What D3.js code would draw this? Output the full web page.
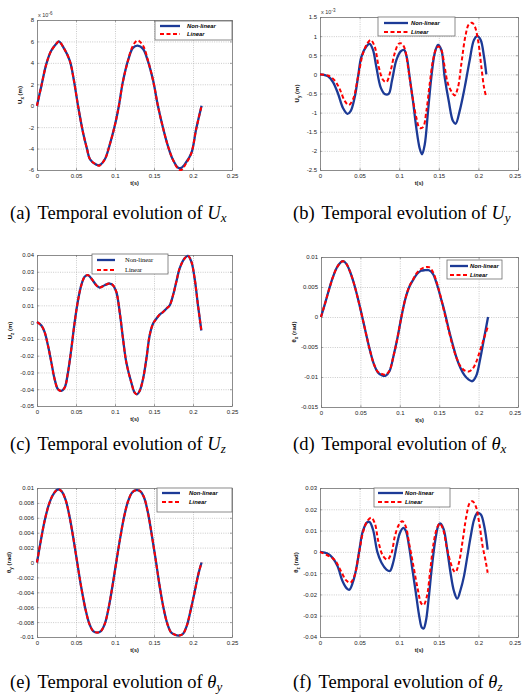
<!DOCTYPE html>
<html><head><meta charset="utf-8">
<script src="https://cdn.jsdelivr.net/npm/d3@7"></script>
<style>body{margin:0;background:#fff} text{font-family:"Liberation Sans",Arial,sans-serif}</style>
</head><body>
<svg id="c" width="522" height="695"></svg>
<script>
// ---------- data ----------
const xTicks = [0, 0.05, 0.1, 0.15, 0.2, 0.25];
const seriesNames = ["Non-linear", "Linear"];

// (a) Ux  (x 1e-6 m)
const tA = [0,0.0056,0.012,0.018,0.025,0.028,0.035,0.042,0.047,0.0526,0.059,0.064,0.068,0.076,0.080,0.087,0.093,0.0996,0.105,0.110,0.117,0.123,0.129,0.136,0.142,0.149,0.155,0.162,0.168,0.174,0.181,0.185,0.191,0.198,0.204,0.211];
const uxNL = [0,1.85,3.9,5.1,5.8,6.0,5.3,4.2,2.5,0,-2.5,-4.0,-5.0,-5.5,-5.55,-5.0,-3.7,-1.9,0,2.2,4.3,5.4,5.6,5.3,4.2,2.3,0,-2.2,-3.8,-5.0,-5.8,-5.8,-5.3,-4.4,-2.2,0];
const uxL  = [0,1.85,3.9,5.1,5.8,6.0,5.3,4.2,2.5,0,-2.5,-4.0,-5.0,-5.5,-5.6,-5.0,-3.7,-1.9,0,2.2,4.3,5.6,6.1,5.6,4.3,2.3,0,-2.2,-3.8,-5.0,-5.9,-6.0,-5.4,-4.4,-2.2,0];
const yTicksA = [-6,-4,-2,0,2,4,6,8];

// (b) Uy  (x 1e-3 m)
const tBnl = [0,0.0101,0.0164,0.0227,0.029,0.0345,0.0387,0.0438,0.048,0.0522,0.0585,0.0627,0.0669,0.0711,0.0766,0.0816,0.0867,0.0909,0.0964,0.1019,0.1061,0.1094,0.1132,0.1174,0.1216,0.1258,0.1288,0.1322,0.1364,0.1406,0.1448,0.149,0.1532,0.1574,0.1625,0.1679,0.1713,0.1763,0.1827,0.189,0.1944,0.1987,0.2029,0.2071,0.21];
const uyNL = [0,-0.05,-0.2,-0.5,-0.88,-1.03,-0.96,-0.6,-0.07,0.46,0.73,0.8,0.64,0.2,-0.34,-0.51,-0.51,-0.16,0.37,0.6,0.64,0.46,-0.07,-0.69,-1.4,-1.93,-2.09,-1.84,-0.96,-0.07,0.55,0.77,0.64,-0.07,-0.69,-1.22,-1.29,-0.96,-0.34,0.37,0.9,1.0,0.9,0.46,0];
const tBl = [0,0.0101,0.0185,0.0248,0.0311,0.0362,0.0417,0.048,0.0543,0.0598,0.064,0.069,0.0741,0.0795,0.0838,0.0892,0.0943,0.0993,0.1027,0.1069,0.1111,0.1162,0.1216,0.1258,0.1301,0.1343,0.1385,0.1427,0.1469,0.1498,0.1532,0.1574,0.1616,0.1667,0.17,0.1742,0.1785,0.1835,0.1877,0.1919,0.1953,0.1995,0.2037,0.2071,0.21];
const uyL = [0,-0.03,-0.16,-0.38,-0.69,-0.8,-0.65,-0.07,0.55,0.81,0.9,0.73,0.2,-0.14,-0.2,0.1,0.55,0.8,0.81,0.68,0.2,-0.51,-1.13,-1.4,-1.38,-0.96,-0.25,0.37,0.68,0.73,0.64,0.2,-0.25,-0.47,-0.55,-0.34,0.28,0.99,1.3,1.35,1.26,0.9,0.2,-0.34,-0.6];
const yTicksB = [-2.5,-2,-1.5,-1,-0.5,0,0.5,1,1.5];

// (c) Uz (m)
const tC = [0,0.0056,0.0098,0.0141,0.0184,0.0226,0.0269,0.0312,0.0355,0.0397,0.044,0.0483,0.0526,0.0568,0.0611,0.0654,0.0697,0.0761,0.0803,0.0868,0.0932,0.0974,0.1017,0.106,0.1103,0.1145,0.1209,0.1252,0.1282,0.1316,0.1359,0.1402,0.1444,0.1487,0.153,0.1573,0.1615,0.1658,0.1701,0.1744,0.1786,0.1829,0.1893,0.1936,0.1979,0.2021,0.2064,0.2107];
const uzNL = [0,-0.002,-0.006,-0.014,-0.024,-0.034,-0.040,-0.041,-0.039,-0.030,-0.016,0,0.013,0.022,0.027,0.028,0.026,0.022,0.0206,0.022,0.023,0.022,0.018,0.006,-0.010,-0.024,-0.036,-0.042,-0.043,-0.041,-0.034,-0.022,-0.008,-0.001,0.002,0.0045,0.006,0.008,0.010,0.016,0.024,0.032,0.038,0.0395,0.036,0.026,0.010,-0.005];
const uzL  = [0,-0.002,-0.006,-0.014,-0.024,-0.034,-0.040,-0.041,-0.039,-0.030,-0.016,0,0.013,0.022,0.027,0.028,0.026,0.022,0.0206,0.022,0.023,0.022,0.018,0.006,-0.010,-0.024,-0.036,-0.042,-0.043,-0.041,-0.034,-0.022,-0.008,-0.001,0.002,0.0045,0.006,0.008,0.010,0.016,0.024,0.032,0.038,0.0395,0.036,0.026,0.010,-0.005];
const yTicksC = [-0.05,-0.04,-0.03,-0.02,-0.01,0,0.01,0.02,0.03,0.04];

// (d) theta_x (rad)
const tD = [0,0.005,0.010,0.015,0.020,0.025,0.028,0.032,0.037,0.042,0.047,0.052,0.057,0.062,0.067,0.072,0.077,0.082,0.087,0.092,0.097,0.102,0.107,0.112,0.117,0.122,0.127,0.132,0.137,0.142,0.147,0.152,0.157,0.162,0.167,0.172,0.177,0.182,0.187,0.192,0.197,0.202,0.207,0.212];
const txNL = [0,0.0022,0.0045,0.0066,0.0082,0.0091,0.0093,0.0089,0.0075,0.0055,0.0030,0.0002,-0.0027,-0.0055,-0.0078,-0.0092,-0.0097,-0.0098,-0.0090,-0.0065,-0.0035,0,0.0030,0.0050,0.0062,0.0072,0.0077,0.0078,0.0078,0.0072,0.0055,0.0032,0.0008,-0.0020,-0.0045,-0.0068,-0.0085,-0.0097,-0.0104,-0.0107,-0.0098,-0.0070,-0.0035,0.0];
const txL  = [0,0.0022,0.0045,0.0066,0.0082,0.0091,0.0093,0.0089,0.0075,0.0055,0.0030,0.0002,-0.0027,-0.0055,-0.0078,-0.0091,-0.0095,-0.0096,-0.0089,-0.0065,-0.0035,0,0.0030,0.0051,0.0063,0.0074,0.0080,0.0083,0.0083,0.0075,0.0057,0.0033,0.0005,-0.0022,-0.0048,-0.0068,-0.0082,-0.0089,-0.0091,-0.0087,-0.0075,-0.0055,-0.0035,-0.0015];
const yTicksD = [-0.015,-0.01,-0.005,0,0.005,0.01];

// (e) theta_y (rad)
const tE = [0,0.005,0.010,0.015,0.020,0.025,0.028,0.032,0.037,0.042,0.047,0.052,0.057,0.062,0.067,0.072,0.077,0.082,0.087,0.092,0.097,0.102,0.107,0.112,0.117,0.122,0.127,0.132,0.137,0.142,0.147,0.152,0.157,0.162,0.167,0.172,0.177,0.182,0.187,0.192,0.197,0.202,0.207,0.211];
const tyNL = [0,0.0030,0.0057,0.0077,0.0090,0.0097,0.0098,0.0095,0.0083,0.0060,0.0030,-0.0003,-0.0035,-0.0062,-0.0082,-0.0092,-0.0094,-0.0092,-0.0082,-0.0060,-0.0030,0.0003,0.0035,0.0063,0.0083,0.0094,0.0097,0.0096,0.0088,0.0068,0.0038,0.0005,-0.0030,-0.0060,-0.0082,-0.0094,-0.0097,-0.0098,-0.0096,-0.0085,-0.0064,-0.0040,-0.0015,0.0];
const tyL  = [0,0.0030,0.0057,0.0077,0.0090,0.0097,0.0098,0.0095,0.0083,0.0060,0.0030,-0.0003,-0.0035,-0.0062,-0.0082,-0.0092,-0.0094,-0.0092,-0.0082,-0.0060,-0.0030,0.0003,0.0035,0.0063,0.0083,0.0094,0.0097,0.0096,0.0088,0.0068,0.0038,0.0005,-0.0030,-0.0060,-0.0082,-0.0094,-0.0097,-0.0098,-0.0096,-0.0085,-0.0064,-0.0040,-0.0015,0.0];
const yTicksE = [-0.01,-0.008,-0.006,-0.004,-0.002,0,0.002,0.004,0.006,0.008,0.01];

// (f) theta_z (rad)
const tFnl = [0,0.0094,0.0158,0.0221,0.0285,0.0341,0.0371,0.0413,0.0456,0.0498,0.0541,0.0596,0.0626,0.0669,0.0724,0.0775,0.0839,0.0882,0.0924,0.0967,0.1009,0.1052,0.1086,0.1124,0.1167,0.121,0.1252,0.1286,0.1308,0.1337,0.1371,0.1414,0.1457,0.1499,0.1521,0.1563,0.1606,0.1648,0.1691,0.1733,0.1776,0.1818,0.1861,0.1903,0.1946,0.1988,0.2031,0.2074,0.2117];
const tzNL = [0,-0.0008,-0.0028,-0.0067,-0.0138,-0.0173,-0.0178,-0.0145,-0.0083,0.001,0.0097,0.0139,0.014,0.0105,0,-0.005,-0.0083,-0.009,-0.005,0.0027,0.0089,0.0113,0.0097,0.0027,-0.0083,-0.0192,-0.030,-0.0356,-0.036,-0.0325,-0.0223,-0.0067,0.0058,0.0128,0.0133,0.0105,0.001,-0.0098,-0.0184,-0.022,-0.0177,-0.0114,-0.002,0.0073,0.0152,0.0183,0.0175,0.012,0.001];
const tFl = [0,0.0179,0.0264,0.0328,0.0383,0.0434,0.0486,0.0541,0.0596,0.0647,0.069,0.0741,0.0797,0.0852,0.0903,0.0945,0.0997,0.1039,0.1082,0.1124,0.118,0.1235,0.1278,0.1308,0.135,0.1393,0.1435,0.1478,0.1512,0.1555,0.1597,0.1648,0.1691,0.1712,0.1755,0.1797,0.1848,0.189,0.1925,0.1967,0.201,0.2053,0.2095,0.2117];
const tzL = [0,-0.0036,-0.009,-0.0133,-0.0145,-0.0114,-0.002,0.0089,0.0144,0.016,0.0136,0.0042,-0.002,-0.0036,-0.0005,0.0073,0.0128,0.0144,0.012,0.0042,-0.0067,-0.0177,-0.0242,-0.025,-0.0208,-0.0083,0.0042,0.0113,0.0133,0.0105,0.0027,-0.005,-0.009,-0.0095,-0.005,0.0042,0.0167,0.023,0.0238,0.0214,0.0136,0.0027,-0.005,-0.0098];
const yTicksF = [-0.04,-0.03,-0.02,-0.01,0,0.01,0.02,0.03];

// ---------- layout ----------
const panels = [
  {box:[37,20,232,170], yTicks:yTicksA, tNL:tA, nl:uxNL, tL:tA, l:uxL, exp:"-6",
   ylab:["U","x"," (m)"], ylabX:22, leg:[155,21,232,40], legLine:[160,180], legText:187, legRows:[26,34], legSerif:false,
   cap:["(a)","U","x"], capX:10, capY:219},
  {box:[320,17,518,170], yTicks:yTicksB, tNL:tBnl, nl:uyNL, tL:tBl, l:uyL, exp:"-3",
   ylab:["U","y"," (m)"], ylabX:299, leg:[378,17,455,36], legLine:[384,408], legText:411, legRows:[23,32], legSerif:false,
   cap:["(b)","U","y"], capX:293, capY:219},
  {box:[37,255,232,406], yTicks:yTicksC, tNL:tC, nl:uzNL, tL:tC, l:uzL,
   ylab:["U","z"," (m)"], ylabX:12, leg:[92,254,168,274], legLine:[97,115], legText:125, legRows:[260,270], legSerif:true,
   cap:["(c)","U","z"], capX:10, capY:450},
  {box:[321,257,518,407], yTicks:yTicksD, tNL:tD, nl:txNL, tL:tD, l:txL,
   ylab:["θ","x"," (rad)"], ylabX:296, leg:[447,260,502,279], legLine:[450,468], legText:470, legRows:[266,275], legSerif:false,
   cap:["(d)","θ","x"], capX:293, capY:450},
  {box:[37,488,232,637], yTicks:yTicksE, tNL:tE, nl:tyNL, tL:tE, l:tyL,
   ylab:["θ","y"," (rad)"], ylabX:11, leg:[157,488,232,512], legLine:[162,180], legText:189, legRows:[493,502], legSerif:false,
   cap:["(e)","θ","y"], capX:10, capY:688},
  {box:[320,488,518,637], yTicks:yTicksF, tNL:tFnl, nl:tzNL, tL:tFl, l:tzL,
   ylab:["θ","z"," (rad)"], ylabX:298, leg:[374,488,450,507], legLine:[378,403], legText:405, legRows:[493,502], legSerif:false,
   cap:["(f)","θ","z"], capX:293, capY:688}
];

const BLUE = "#1c3a96", RED = "#ff0000";
const svg = d3.select("#c");
const fmt = d => String(+(+d).toFixed(6));

function drawPanel(p){
  const [x0,y0,x1,y1] = p.box;
  const x = d3.scaleLinear().domain([xTicks[0], xTicks[xTicks.length-1]]).range([x0,x1]);
  const y = d3.scaleLinear().domain([p.yTicks[0], p.yTicks[p.yTicks.length-1]]).range([y1,y0]);
  const g = svg.append("g");

  // grid
  const gridStyle = s=>{ s.select(".domain").remove(); s.selectAll("line").attr("stroke","#a8a8a8").attr("stroke-width",0.6).attr("stroke-dasharray","1,1.3"); };
  g.append("g").attr("transform",`translate(0,${y1})`)
    .call(d3.axisBottom(x).tickValues(xTicks.slice(1,-1)).tickSize(-(y1-y0)).tickFormat("")).call(gridStyle);
  g.append("g").attr("transform",`translate(${x0},0)`)
    .call(d3.axisLeft(y).tickValues(p.yTicks.slice(1,-1)).tickSize(-(x1-x0)).tickFormat("")).call(gridStyle);

  // axes with ticks inside
  const styleAx = s=>{
    s.select(".domain").attr("stroke","#6e6e6e").attr("stroke-width",0.8);
    s.selectAll(".tick line").attr("stroke","#6e6e6e").attr("stroke-width",0.6);
    s.selectAll("text").attr("fill","#222").style("font-size","6px").style("font-family","'Liberation Sans',Arial,sans-serif");
  };
  const bx = g.append("g").attr("transform",`translate(0,${y1})`)
    .call(d3.axisBottom(x).tickValues(xTicks).tickSize(-2).tickSizeOuter(0).tickPadding(4).tickFormat(fmt)).call(styleAx);
  // keep the last tick label inside the page
  bx.selectAll(".tick text").filter(d => x(d) > 512).attr("text-anchor","end").attr("dx", 521 - x1 - 0.5 + "px")
    .attr("x", 0);
  g.append("g").attr("transform",`translate(0,${y0})`)
    .call(d3.axisTop(x).tickValues(xTicks).tickSize(-2).tickSizeOuter(0).tickFormat("")).call(styleAx);
  g.append("g").attr("transform",`translate(${x0},0)`)
    .call(d3.axisLeft(y).tickValues(p.yTicks).tickSize(-2).tickSizeOuter(0).tickPadding(3).tickFormat(fmt)).call(styleAx);
  g.append("g").attr("transform",`translate(${x1},0)`)
    .call(d3.axisRight(y).tickValues(p.yTicks).tickSize(-2).tickSizeOuter(0).tickFormat("")).call(styleAx);

  // lines
  const line = d3.line().curve(d3.curveCatmullRom.alpha(0.5));
  g.append("path").attr("d", line(p.tNL.map((t,i)=>[x(t), y(p.nl[i])])))
    .attr("fill","none").attr("stroke",BLUE).attr("stroke-width",2.3).attr("stroke-linejoin","round");
  g.append("path").attr("d", line(p.tL.map((t,i)=>[x(t), y(p.l[i])])))
    .attr("fill","none").attr("stroke",RED).attr("stroke-width",2).attr("stroke-dasharray","4,2.5");

  // exponent
  if(p.exp){
    const e = g.append("text").attr("x",x0+1).attr("y",y0-3).attr("fill","#333").style("font-size","5.5px");
    e.append("tspan").text("x 10");
    e.append("tspan").attr("dy",-2.5).style("font-size","4.5px").text(p.exp);
  }

  // axis labels
  const yl = g.append("text").attr("transform",`translate(${p.ylabX},${(y0+y1)/2}) rotate(-90)`)
    .attr("text-anchor","middle").style("font-size","6px").style("font-weight","bold").attr("fill","#111");
  yl.append("tspan").text(p.ylab[0]);
  yl.append("tspan").attr("dy",1.8).style("font-size","4.5px").text(p.ylab[1]);
  yl.append("tspan").attr("dy",-1.8).text(p.ylab[2]);
  g.append("text").attr("x",(x0+x1)/2).attr("y",y1+15).attr("text-anchor","middle")
    .style("font-size","5.5px").style("font-weight","bold").attr("fill","#111").text("t(s)");

  // legend
  const [lx0,ly0,lx1,ly1] = p.leg;
  g.append("rect").attr("x",lx0).attr("y",ly0).attr("width",lx1-lx0).attr("height",ly1-ly0)
    .attr("fill","#fff").attr("stroke","#6e6e6e").attr("stroke-width",0.8);
  const colors = [BLUE, RED];
  seriesNames.forEach((name,i)=>{
    const ry = p.legRows[i];
    g.append("line").attr("x1",p.legLine[0]).attr("x2",p.legLine[1]).attr("y1",ry).attr("y2",ry)
      .attr("stroke",colors[i]).attr("stroke-width",i?2:2.3).attr("stroke-dasharray",i?"4,2.5":null);
    const t = g.append("text").attr("x",p.legText).attr("y",ry+2).attr("fill","#000").text(name);
    if(p.legSerif) t.style("font-family","'Liberation Serif',serif").style("font-size","6.5px");
    else t.style("font-size","5.8px").style("font-weight","bold").style("font-style","italic");
  });

  // caption
  const c = svg.append("text").attr("x",p.capX).attr("y",p.capY)
    .style("font-family","'Liberation Serif','Times New Roman',serif").style("font-size","18.5px").attr("fill","#000");
  c.append("tspan").text(p.cap[0]);
  c.append("tspan").attr("dx",7).text("Temporal evolution of ");
  c.append("tspan").style("font-style","italic").text(p.cap[1]);
  c.append("tspan").attr("dy",3).style("font-style","italic").style("font-size","13px").text(p.cap[2]);
}

panels.forEach(drawPanel);
</script>
</body></html>
